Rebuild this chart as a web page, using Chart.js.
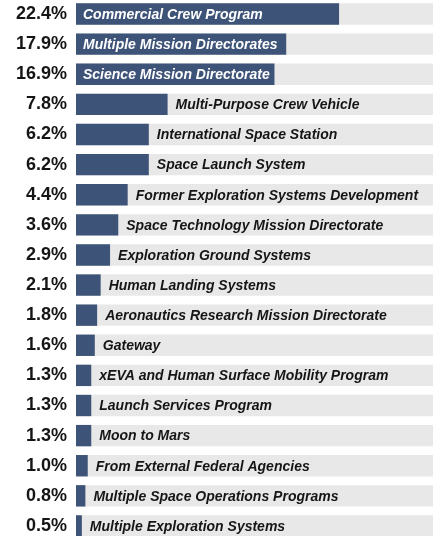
<!DOCTYPE html>
<html>
<head>
<meta charset="utf-8">
<script src="https://cdn.jsdelivr.net/npm/chart.js@4/dist/chart.umd.min.js"></script>
<style>
  html, body { margin: 0; padding: 0; background: #fff; overflow: hidden; }
  #wrap { position: absolute; left: 0; top: -1px; width: 433px; height: 542px; }
</style>
</head>
<body>
<div id="wrap"><canvas id="shareChart" width="433" height="542"></canvas></div>
<script>
// categories and values
var programs = [
    "Commercial Crew Program",
    "Multiple Mission Directorates",
    "Science Mission Directorate",
    "Multi-Purpose Crew Vehicle",
    "International Space Station",
    "Space Launch System",
    "Former Exploration Systems Development",
    "Space Technology Mission Directorate",
    "Exploration Ground Systems",
    "Human Landing Systems",
    "Aeronautics Research Mission Directorate",
    "Gateway",
    "xEVA and Human Surface Mobility Program",
    "Launch Services Program",
    "Moon to Mars",
    "From External Federal Agencies",
    "Multiple Space Operations Programs",
    "Multiple Exploration Systems"
];
var shares = [22.4, 17.9, 16.9, 7.8, 6.2, 6.2, 4.4, 3.6, 2.9, 2.1, 1.8, 1.6, 1.3, 1.3, 1.3, 1.0, 0.8, 0.5];
var scaleMax = 30.4;
var trackValues = programs.map(function () { return scaleMax; });

//-----------------------
//- bar name labels     -
//-----------------------
var nameLabels = {
    id: 'nameLabels',
    afterDatasetsDraw: function (chart) {
        var ctx = chart.ctx;
        var meta = chart.getDatasetMeta(0);
        ctx.save();
        ctx.font = "italic bold 14px 'Liberation Sans', Arial, sans-serif";
        ctx.textBaseline = 'middle';
        ctx.textAlign = 'left';
        meta.data.forEach(function (bar, i) {
            if (shares[i] >= 10) {
                // big bars carry the name inside
                ctx.fillStyle = '#ffffff';
                ctx.fillText(programs[i], bar.base + 7, bar.y + 1);
            } else {
                ctx.fillStyle = '#151515';
                ctx.fillText(programs[i], bar.x + 8, bar.y + 1);
            }
        });
        ctx.restore();
    }
};

var ctx = document.getElementById('shareChart').getContext('2d');
new Chart(ctx, {
    type: 'bar',
    data: {
        labels: programs,
        datasets: [
            {
                label: 'Share',
                data: shares,
                backgroundColor: '#3d5377',
                borderWidth: 0,
                order: 0
            },
            {
                label: 'Track',
                data: trackValues,
                backgroundColor: '#e8e8e8',
                borderWidth: 0,
                order: 1
            }
        ]
    },
    options: {
        indexAxis: 'y',
        responsive: false,
        animation: false,
        layout: { padding: 0 },
        datasets: {
            bar: {
                grouped: false,
                categoryPercentage: 1,
                barPercentage: 0.71
            }
        },
        plugins: {
            legend: { display: false },
            tooltip: { enabled: false }
        },
        scales: {
            x: {
                display: false,
                min: 0,
                max: scaleMax
            },
            y: {
                grid: { display: false, drawTicks: false },
                border: { display: false },
                afterFit: function (scale) {
                    scale.width = 76;
                    // no extra room for half labels at the ends
                    scale.paddingTop = 0;
                    scale.paddingBottom = 0;
                },
                ticks: {
                    autoSkip: false,
                    padding: 9,
                    color: '#151515',
                    font: { family: "'Liberation Sans', Arial, sans-serif", size: 18, weight: 'bold' },
                    callback: function (v, i) { return shares[i].toFixed(1) + '%'; }
                }
            }
        }
    },
    plugins: [nameLabels]
});
</script>
</body>
</html>
